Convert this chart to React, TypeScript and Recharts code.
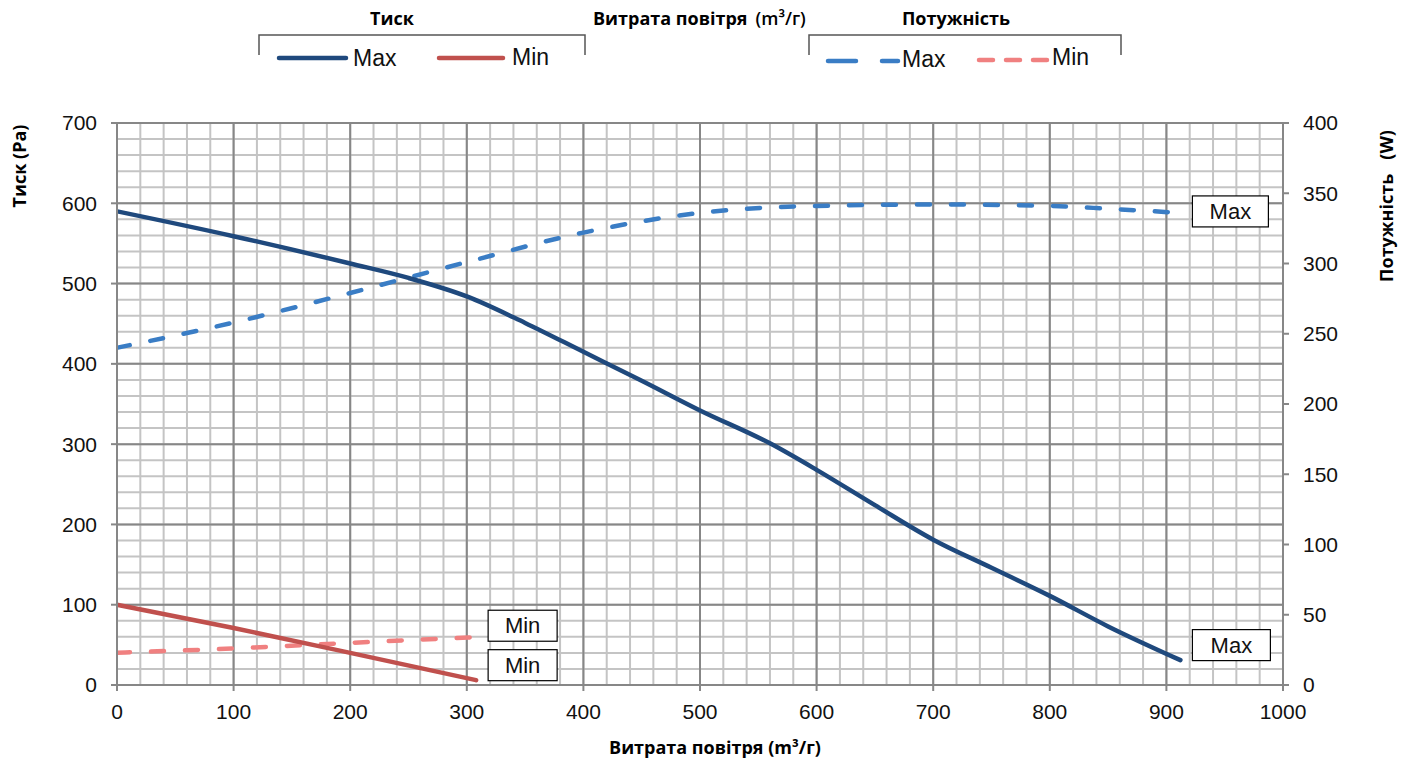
import { ComposedChart, Line, XAxis, YAxis, CartesianGrid } from "recharts";

// витрата повітря (m3/г) для кривих
const flowMax = [0, 100, 200, 250, 300, 350, 400, 450, 500, 560, 600, 650, 700, 750, 800, 850, 912];
const pressureMax = [590, 559, 525, 507, 484, 451, 415, 379, 342, 301, 268, 224, 181, 146, 111, 73, 31];

const flowPowerMax = [0, 100, 200, 300, 400, 500, 600, 700, 800, 850, 912];
const powerMax = [240, 258, 279, 301, 322, 336, 341, 342, 341, 339, 336];

const flowMin = [0, 100, 200, 308];
const pressureMin = [100, 71, 40, 6];
const powerMin = [23, 26, 30, 34];

const xTicks = [0, 100, 200, 300, 400, 500, 600, 700, 800, 900, 1000];
const yLeftTicks = [0, 100, 200, 300, 400, 500, 600, 700];
const yRightTicks = [0, 50, 100, 150, 200, 250, 300, 350, 400];
const xMinor = Array.from({ length: 51 }, (_, i) => i * 20);
const yMinor = Array.from({ length: 36 }, (_, i) => i * 20);

const pMaxData = flowMax.map((q, i) => ({ q, v: pressureMax[i] }));
const wMaxData = flowPowerMax.map((q, i) => ({ q, v: powerMax[i] }));
const pMinData = flowMin.map((q, i) => ({ q, v: pressureMin[i] }));
const wMinData = flowMin.map((q, i) => ({ q, v: powerMin[i] }));

const TICK_FONT = "'Liberation Sans', Arial, sans-serif";
const BOLD_FONT = "'Open Sans', 'Liberation Sans', sans-serif";
const AXIS = "#878787";

// сітка через 20 одиниць, по шкалі осі
const minorHorizontal = ({ yAxis, offset }: any) => {
    if (yAxis && typeof yAxis.scale === "function") return yMinor.map((v) => yAxis.scale(v));
    return yMinor.map((v) => offset.top + offset.height * (1 - v / 700));
};
const minorVertical = ({ xAxis, offset }: any) => {
    if (xAxis && typeof xAxis.scale === "function") return xMinor.map((v) => xAxis.scale(v));
    return xMinor.map((v) => offset.left + offset.width * (v / 1000));
};

const EndLabel = (props: any) => {
    const { x, y, index, last, text, dx, dy, w } = props;
    if (index !== last || x == null) return null;
    return (
        <g>
            <rect x={x + dx} y={y + dy - 15.5} width={w} height={31} fill="#fff" stroke="#000" strokeWidth={1.2} />
            <text x={x + dx + w / 2} y={y + dy + 7.5} textAnchor="middle" fontSize={22} fontFamily={TICK_FONT} fill="#111">
                {text}
            </text>
        </g>
    );
};

const Overlay = () => (
    <svg width={1411} height={760} style={{ position: "absolute", left: 0, top: 0, pointerEvents: "none" }}>
        <g fontFamily={BOLD_FONT} fontWeight={700} fontSize={18} fill="#000">
            <text x={392} y={25} textAnchor="middle">Тиск</text>
            <text x={593} y={25}>
                Витрата повітря
                <tspan dx={8} fontWeight={600}>(m³/г)</tspan>
            </text>
            <text x={956} y={25} textAnchor="middle">Потужність</text>
            <text x={715} y={754} textAnchor="middle">
                Витрата повітря (m³/г)
            </text>
            <text transform="translate(26,166) rotate(-90)" textAnchor="middle">Тиск (Pa)</text>
            <text transform="translate(1393,206) rotate(-90)" textAnchor="middle">Потужність&#160;&#160;&#160;(W)</text>
        </g>

        {/* дужки легенди */}
        <path d="M259 55 V35 H585 V55" fill="none" stroke="#555" strokeWidth={1.5} />
        <path d="M809 55 V35 H1121 V55" fill="none" stroke="#555" strokeWidth={1.5} />

        <line x1={279} y1={58} x2={346} y2={58} stroke="#1F497D" strokeWidth={4.5} strokeLinecap="round" />
        <line x1={439} y1={58} x2={503} y2={58} stroke="#C0504D" strokeWidth={4.5} strokeLinecap="round" />
        <line x1={828} y1={61} x2={898} y2={61} stroke="#3A7DC5" strokeWidth={4.5} strokeLinecap="round" strokeDasharray="28 26" />
        <line x1={979} y1={60} x2={1047} y2={60} stroke="#F08080" strokeWidth={4.5} strokeLinecap="round" strokeDasharray="14 13" />

        <g fontFamily={TICK_FONT} fontSize={23} fill="#111">
            <text x={353} y={66}>Max</text>
            <text x={512} y={65}>Min</text>
            <text x={902} y={67}>Max</text>
            <text x={1052} y={65}>Min</text>
        </g>
    </svg>
);

export default function App() {
    return (
        <div style={{ position: "absolute", left: 0, top: 0, width: 1411, height: 760, background: "#fff" }}>
            <ComposedChart width={1411} height={760} margin={{ top: 123, right: 0, bottom: 0, left: 0 }}>
                <CartesianGrid
                    stroke="#c4c4c4"
                    strokeWidth={2}
                    horizontalCoordinatesGenerator={minorHorizontal}
                    verticalCoordinatesGenerator={minorVertical}
                />
                <CartesianGrid stroke={AXIS} strokeWidth={2} />
                <XAxis
                    type="number"
                    dataKey="q"
                    domain={[0, 1000]}
                    ticks={xTicks}
                    allowDataOverflow
                    height={75}
                    stroke={AXIS}
                    strokeWidth={2}
                    tickSize={6}
                    tickMargin={13}
                    tick={{ fontSize: 21, fill: "#111", fontFamily: TICK_FONT }}
                />
                <YAxis
                    type="number"
                    domain={[0, 700]}
                    ticks={yLeftTicks}
                    width={117}
                    stroke={AXIS}
                    strokeWidth={2}
                    tickSize={6}
                    tickMargin={14}
                    tick={{ fontSize: 21, fill: "#111", fontFamily: TICK_FONT }}
                />
                <YAxis
                    yAxisId="right"
                    orientation="right"
                    type="number"
                    domain={[0, 400]}
                    ticks={yRightTicks}
                    width={128}
                    stroke={AXIS}
                    strokeWidth={2}
                    tickSize={6}
                    tickMargin={14}
                    tick={{ fontSize: 21, fill: "#111", fontFamily: TICK_FONT, textAnchor: "start" }}
                />

                <Line
                    data={wMaxData}
                    dataKey="v"
                    yAxisId="right"
                    type="monotone"
                    stroke="#3A7DC5"
                    strokeWidth={4.5}
                    strokeLinecap="round"
                    strokeDasharray="13 21"
                    dot={false}
                    isAnimationActive={false}
                    label={(p: any) => <EndLabel {...p} last={wMaxData.length - 1} text="Max" dx={12} dy={-1.5} w={76} />}
                />
                <Line
                    data={wMinData}
                    dataKey="v"
                    yAxisId="right"
                    type="monotone"
                    stroke="#F08080"
                    strokeWidth={4.5}
                    strokeLinecap="round"
                    strokeDasharray="13 21"
                    dot={false}
                    isAnimationActive={false}
                    label={(p: any) => <EndLabel {...p} last={wMinData.length - 1} text="Min" dx={12} dy={-11.5} w={69} />}
                />
                <Line
                    data={pMinData}
                    dataKey="v"
                    type="monotone"
                    stroke="#C0504D"
                    strokeWidth={4.5}
                    strokeLinecap="round"
                    dot={false}
                    isAnimationActive={false}
                    label={(p: any) => <EndLabel {...p} last={pMinData.length - 1} text="Min" dx={12} dy={-15} w={69} />}
                />
                <Line
                    data={pMaxData}
                    dataKey="v"
                    type="monotone"
                    stroke="#1F497D"
                    strokeWidth={4.5}
                    strokeLinecap="round"
                    dot={false}
                    isAnimationActive={false}
                    label={(p: any) => <EndLabel {...p} last={pMaxData.length - 1} text="Max" dx={12} dy={-15} w={78} />}
                />
            </ComposedChart>
            <Overlay />
        </div>
    );
}
